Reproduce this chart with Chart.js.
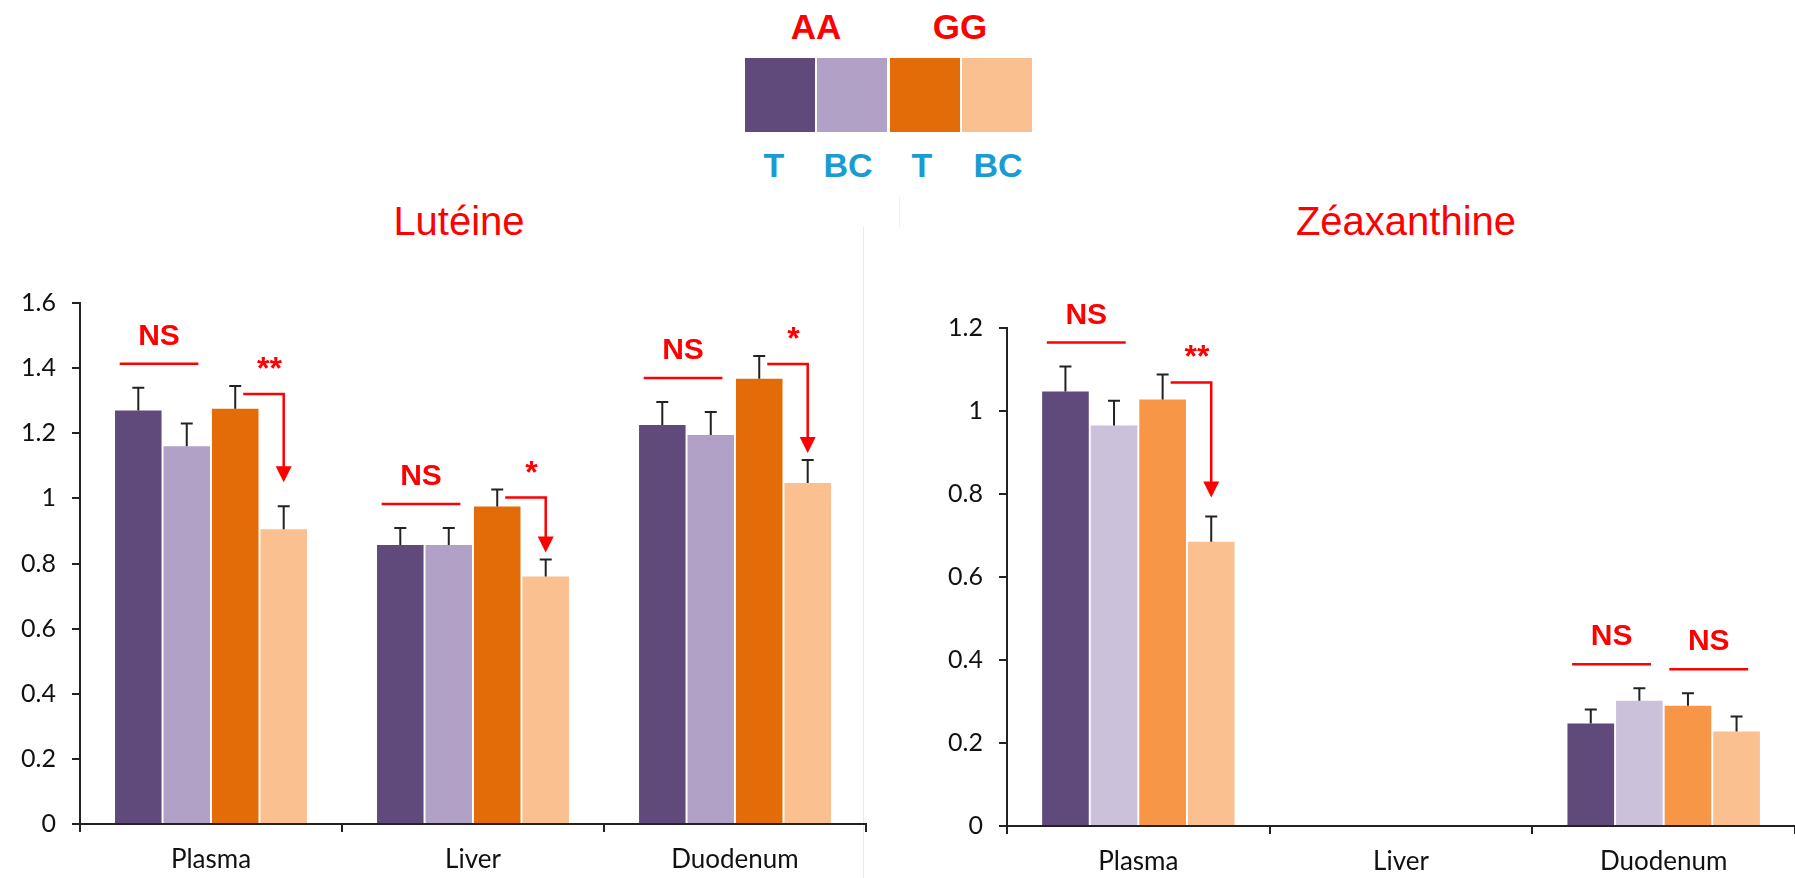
<!DOCTYPE html>
<html>
<head>
<meta charset="utf-8">
<script src="https://cdn.jsdelivr.net/npm/chart.js@4.4.1/dist/chart.umd.min.js"></script>
<style>
  body { margin: 0; background: #fff; width: 1795px; height: 878px; overflow: hidden; position: relative; font-family: "Liberation Sans", Arial, sans-serif; }
  .abs { position: absolute; }
  .sw { position: absolute; top: 58px; width: 70px; height: 74px; }
  .txt { position: absolute; width: 200px; text-align: center; white-space: nowrap; }
  .geno { color: #ff0000; font-weight: bold; font-size: 35px; line-height: 35px; top: 9px; }
  .treat { color: #1a9bd1; font-weight: bold; font-size: 34px; line-height: 34px; top: 148px; }
  .title { color: #ff0000; font-size: 40px; line-height: 40px; top: 201px; width: 400px; }
  canvas { position: absolute; top: 250px; }
</style>
</head>
<body>
<!-- legend -->
<div class="txt geno" style="left:716px">AA</div>
<div class="txt geno" style="left:860px">GG</div>
<div class="sw" style="left:745px;background:#604a7b"></div>
<div class="sw" style="left:817px;background:#b2a1c7"></div>
<div class="sw" style="left:890px;background:#e36c09"></div>
<div class="sw" style="left:962px;background:#fac090"></div>
<div class="txt treat" style="left:674px">T</div>
<div class="txt treat" style="left:748px">BC</div>
<div class="txt treat" style="left:822px">T</div>
<div class="txt treat" style="left:898px">BC</div>

<div class="txt title" style="left:259px">Lutéine</div>
<div class="txt title" style="left:1206px">Zéaxanthine</div>

<div class="abs" style="left:863px;top:227px;width:1px;height:651px;background:#ececec"></div>
<div class="abs" style="left:899px;top:197px;width:1px;height:30px;background:#f0f0f0"></div>

<canvas id="lut-chart" width="880" height="628" style="left:0"></canvas>
<canvas id="zea-chart" width="915" height="628" style="left:880px"></canvas>

<script>
"use strict";
const categories = ["Plasma", "Liver", "Duodenum"];
const seriesNames = ["AA T", "AA BC", "GG T", "GG BC"];

// Lutéine (left panel)
const lutAAT = [1.27, 0.857, 1.225];
const lutAABC = [1.16, 0.857, 1.195];
const lutGGT = [1.275, 0.975, 1.367];
const lutGGBC = [0.905, 0.76, 1.047];
const lutErrAAT = [0.07, 0.052, 0.071];
const lutErrAABC = [0.07, 0.052, 0.07];
const lutErrGGT = [0.07, 0.052, 0.07];
const lutErrGGBC = [0.071, 0.052, 0.071];
const lutTicks = ["0", "0.2", "0.4", "0.6", "0.8", "1", "1.2", "1.4", "1.6"];

// Zéaxanthine (right panel)
const zeaAAT = [1.047, null, 0.247];
const zeaAABC = [0.965, null, 0.302];
const zeaGGT = [1.028, null, 0.29];
const zeaGGBC = [0.685, null, 0.228];
const zeaErrAAT = [0.06, null, 0.034];
const zeaErrAABC = [0.06, null, 0.03];
const zeaErrGGT = [0.06, null, 0.03];
const zeaErrGGBC = [0.061, null, 0.036];
const zeaTicks = ["0", "0.2", "0.4", "0.6", "0.8", "1", "1.2"];

const RED = "#ff0000";
const INK = "#222";

function errTop(chart, ds, cat) {
    const d = chart.data.datasets[ds];
    return chart.scales.y.getPixelForValue(d.data[cat] + (d.errors[cat] || 0));
}

// upward error bars
const errorBarPlugin = {
    id: "errorBars",
    afterDatasetsDraw(chart) {
        const ctx = chart.ctx;
        ctx.save();
        ctx.strokeStyle = INK;
        ctx.lineWidth = 2;
        chart.data.datasets.forEach((ds, i) => {
            chart.getDatasetMeta(i).data.forEach((bar, j) => {
                if (ds.data[j] == null || ds.errors[j] == null) return;
                const top = errTop(chart, i, j);
                ctx.beginPath();
                ctx.moveTo(bar.x, bar.y);
                ctx.lineTo(bar.x, top);
                ctx.moveTo(bar.x - 6, top);
                ctx.lineTo(bar.x + 6, top);
                ctx.stroke();
            });
        });
        ctx.restore();
    }
};

// NS lines and significance arrows
const marksPlugin = {
    id: "marks",
    afterDraw(chart, args, opts) {
        const ctx = chart.ctx;
        ctx.save();
        ctx.strokeStyle = RED;
        ctx.fillStyle = RED;
        ctx.lineWidth = 2.5;
        (opts.items || []).forEach(m => {
            const a = chart.getDatasetMeta(m.from).data[m.cat];
            const b = chart.getDatasetMeta(m.to).data[m.cat];
            const w = a.width;
            if (m.type === "ns") {
                const top = Math.min(errTop(chart, m.from, m.cat), errTop(chart, m.to, m.cat));
                const ly = top - 24;
                const x1 = a.x - 0.4 * w, x2 = b.x + 0.25 * w;
                ctx.beginPath();
                ctx.moveTo(x1, ly);
                ctx.lineTo(x2, ly);
                ctx.stroke();
                ctx.font = "bold 30px 'Liberation Sans', Arial, sans-serif";
                ctx.textAlign = "center";
                ctx.textBaseline = "middle";
                ctx.fillText("NS", (x1 + x2) / 2, ly - 27);
            } else {
                const hy = errTop(chart, m.from, m.cat) + 8;
                const tip = errTop(chart, m.to, m.cat) - m.gap;
                ctx.beginPath();
                ctx.moveTo(a.x + 8, hy);
                ctx.lineTo(b.x, hy);
                ctx.lineTo(b.x, tip - 14);
                ctx.stroke();
                ctx.beginPath();
                ctx.moveTo(b.x - 8, tip - 16);
                ctx.lineTo(b.x + 8, tip - 16);
                ctx.lineTo(b.x, tip);
                ctx.closePath();
                ctx.fill();
                ctx.font = "bold 32px 'Liberation Sans', Arial, sans-serif";
                ctx.textAlign = "center";
                ctx.textBaseline = "alphabetic";
                ctx.fillText(m.text, (a.x + b.x) / 2 + 10, hy - 15);
            }
        });
        ctx.restore();
    }
};

const tickFont = { family: "Lato", size: 25 };

function makeChart(id, cfg) {
    const datasets = cfg.series.map((vals, i) => ({
        label: seriesNames[i],
        data: vals,
        errors: cfg.errors[i],
        backgroundColor: cfg.colors[i],
        barPercentage: 0.96,
        categoryPercentage: 0.74
    }));
    return new Chart(document.getElementById(id), {
        type: "bar",
        data: { labels: categories, datasets },
        options: {
            responsive: false,
            animation: false,
            layout: { padding: { top: cfg.padTop, right: cfg.padRight, left: 0, bottom: 0 } },
            plugins: {
                legend: { display: false },
                tooltip: { enabled: false },
                marks: { items: cfg.marks }
            },
            scales: {
                x: {
                    grid: { drawOnChartArea: false, tickLength: 8, color: INK, lineWidth: 2 },
                    border: { color: INK, width: 2 },
                    ticks: { font: { family: "Lato", size: 26 }, color: "#111", padding: 12 },
                    afterFit: s => { s.height = cfg.xHeight; }
                },
                y: {
                    min: 0,
                    max: cfg.max,
                    ticks: {
                        stepSize: 0.2,
                        font: tickFont,
                        color: "#111",
                        padding: 16,
                        callback: (v, i) => cfg.tickLabels[i]
                    },
                    grid: { drawOnChartArea: false, tickLength: 8, color: INK, lineWidth: 2 },
                    border: { color: INK, width: 2 },
                    afterFit: s => { s.width = cfg.yWidth; }
                }
            }
        },
        plugins: [errorBarPlugin, marksPlugin]
    });
}

makeChart("lut-chart", {
    series: [lutAAT, lutAABC, lutGGT, lutGGBC],
    errors: [lutErrAAT, lutErrAABC, lutErrGGT, lutErrGGBC],
    colors: ["#604a7b", "#b2a1c7", "#e36c09", "#fac090"],
    tickLabels: lutTicks,
    max: 1.6,
    padTop: 53,
    padRight: 14,
    yWidth: 80,
    xHeight: 54,
    marks: [
        { type: "ns", cat: 0, from: 0, to: 1 },
        { type: "arrow", cat: 0, from: 2, to: 3, text: "**", gap: 24 },
        { type: "ns", cat: 1, from: 0, to: 1 },
        { type: "arrow", cat: 1, from: 2, to: 3, text: "*", gap: 7 },
        { type: "ns", cat: 2, from: 0, to: 1 },
        { type: "arrow", cat: 2, from: 2, to: 3, text: "*", gap: 7 }
    ]
});

makeChart("zea-chart", {
    series: [zeaAAT, zeaAABC, zeaGGT, zeaGGBC],
    errors: [zeaErrAAT, zeaErrAABC, zeaErrGGT, zeaErrGGBC],
    colors: ["#604a7b", "#ccc1da", "#f79646", "#fac090"],
    tickLabels: zeaTicks,
    max: 1.2,
    padTop: 78,
    padRight: 0,
    yWidth: 127,
    xHeight: 52,
    marks: [
        { type: "ns", cat: 0, from: 0, to: 1 },
        { type: "arrow", cat: 0, from: 2, to: 3, text: "**", gap: 19 },
        { type: "ns", cat: 2, from: 0, to: 1 },
        { type: "ns", cat: 2, from: 2, to: 3 }
    ]
});
</script>
</body>
</html>
